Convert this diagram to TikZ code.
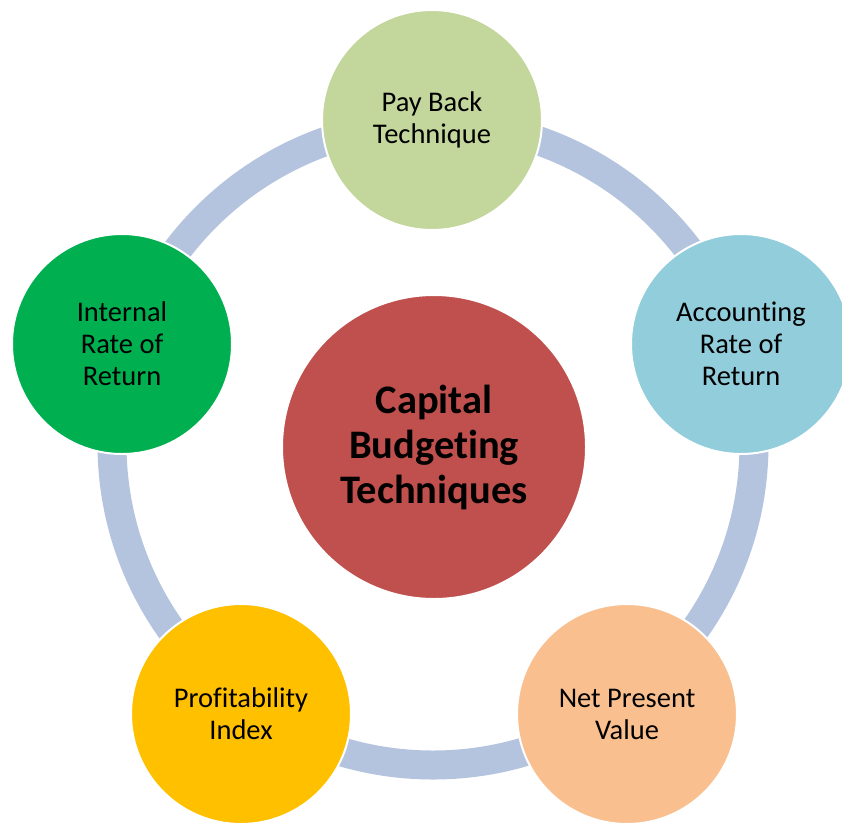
\documentclass[tikz,border=0pt]{standalone}
\usepackage{fontspec}
\setmainfont[Ligatures=NoCommon]{Carlito}
\usepackage{tikz}
\usetikzlibrary{positioning}
\definecolor{capred}{RGB}{192,80,77}
\definecolor{paygreen}{RGB}{195,214,155}
\definecolor{arrblue}{RGB}{146,205,220}
\definecolor{npvpeach}{RGB}{250,191,143}
\definecolor{pigold}{RGB}{255,192,0}
\definecolor{irrgreen}{RGB}{0,176,80}
\definecolor{ringblue}{RGB}{180,196,222}
\tikzset{
	every node/.style={circle, draw=white, line width=2pt, align=center, text=black}, %all bubbles share this
	hub/.style={minimum size=304pt, fill=capred, font=\bfseries\fontsize{40.5}{45}\selectfont}, %the big one in the middle
	technique/.style={minimum size=220pt, font=\fontsize{28.5}{32}\selectfont}, %the five around it
	ring/.style={draw=ringblue, line width=29pt}, %the band joining them
}

\begin{document}
\begin{tikzpicture}[x=1pt,y=-1pt]
			\useasboundingbox[fill=white] (0,0) rectangle (842,822);
			\coordinate (O) at (433,444);
			\draw[ring] (O) circle (321);
			\node[hub] (CB) at (434,447) {Capital\\Budgeting\\Techniques};
			\node[technique, fill=paygreen] (PB) at (432,120) {Pay Back\\Technique};
			\node[technique, fill=arrblue] (ARR) at (741,344) {Accounting\\Rate of\\Return};
			\node[technique, fill=npvpeach] (NPV) at (627,714) {Net Present\\Value};
			\node[technique, fill=pigold] (PI) at (241,714) {Profitability\\Index};
			\node[technique, fill=irrgreen] (IRR) at (122,344) {Internal\\Rate of\\Return};
		\end{tikzpicture}
\end{document}
